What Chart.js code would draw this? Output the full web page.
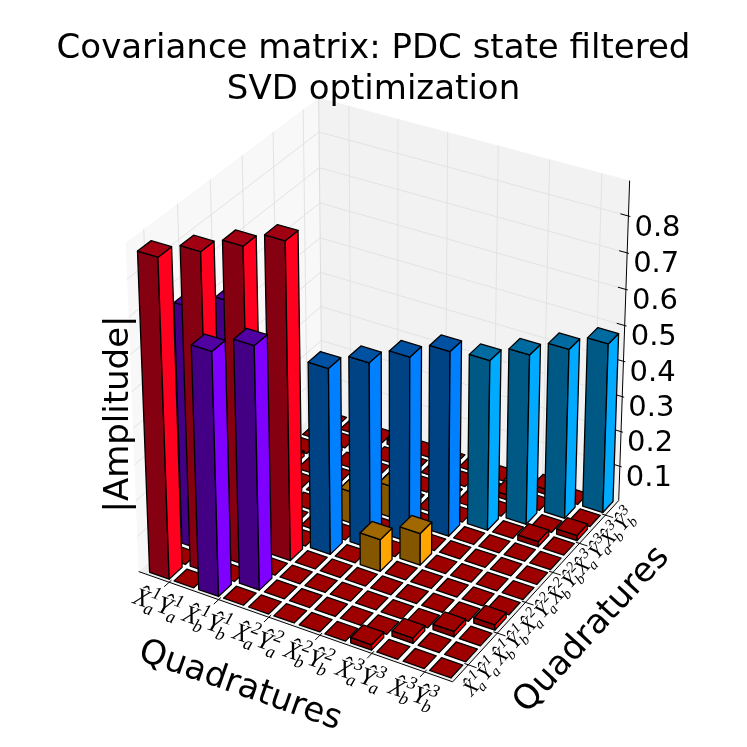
<!DOCTYPE html>
<html><head><meta charset="utf-8">
<script src="https://cdn.jsdelivr.net/npm/chart.js@4.4.0/dist/chart.umd.min.js"></script>
<style>html,body{margin:0;padding:0;background:#fff;}canvas{display:block;}</style>
</head><body>
<canvas id="c" width="747" height="747"></canvas>
<script>
// ---------------- data ----------------
const QUADRATURES = ['X_a^1','Y_a^1','X_b^1','Y_b^1','X_a^2','Y_a^2','X_b^2','Y_b^2','X_a^3','Y_a^3','X_b^3','Y_b^3'];
const TICK_PAIRS = [[0,1],[2,3],[4,5],[6,7],[8,9],[10,11]];
const DIAGONAL = [0.875,0.875,0.875,0.875, 0.52,0.52,0.52,0.52, 0.48,0.48,0.48,0.48];
const DIAGONAL_GROUP = ['m1','m1','m1','m1','m2','m2','m2','m2','m3','m3','m3','m3'];
const CROSS_PAIRS  = [[0,2],[1,3],[4,6],[5,7],[8,10],[9,11],[0,8],[1,9],[2,10],[3,11]];
const CROSS_VALUES = [0.67,0.67,0.09,0.09,0.015,0.015,0.015,0.015,0.015,0.015];
const CROSS_GROUP  = ['c1','c1','c2','c2','z','z','z','z','z','z'];
const Z_MAX = 0.895;
const TITLE_LINES = ['Covariance matrix: PDC state filtered','SVD optimization'];

// ---------------- style / layout ----------------
const COLORS = { m1:[255,0,30], m2:[0,128,255], m3:[0,170,255], c1:[128,0,255], c2:[255,165,0], z:[250,0,0] };
const SHADE = { right:1.0, front:0.52, top:0.63 };
const N = QUADRATURES.length;
const BAR_LO = 0.1, BAR_HI = 0.9;
const AX_MIN = -0.25, AX_MAX = N + 0.05;
// box-corner calibration: [u,v,w] (normalised axes) -> reference pixel
const CAL = [
  [0,0,0,139,572],[1,0,0,452,682],[1,1,0,619,500],
  [0,0,1,126,242],[0,1,1,318,98],[1,1,1,630,181]
];
const TITLE_SIZE = 34, TITLE_PAD_TOP = 29, TITLE_LH = 1.2;
const TITLE_H = TITLE_PAD_TOP + TITLE_LINES.length * TITLE_SIZE * TITLE_LH;

function solveProjection(cal){
  const A=[], b=[];
  cal.forEach(([u,v,w,sx,sy])=>{
    A.push([1,u,v,w,0,0,0,0,-sx*u,-sx*v,-sx*w]); b.push(sx);
    A.push([0,0,0,0,1,u,v,w,-sy*u,-sy*v,-sy*w]); b.push(sy);
  });
  const n=11, M=[];
  for(let i=0;i<n;i++){ M.push(new Array(n+1).fill(0)); }
  for(let r=0;r<A.length;r++) for(let i=0;i<n;i++){ for(let j=0;j<n;j++) M[i][j]+=A[r][i]*A[r][j]; M[i][n]+=A[r][i]*b[r]; }
  for(let c=0;c<n;c++){
    let p=c; for(let r=c+1;r<n;r++) if(Math.abs(M[r][c])>Math.abs(M[p][c])) p=r;
    const t=M[c]; M[c]=M[p]; M[p]=t;
    for(let r=0;r<n;r++){ if(r===c) continue; const f=M[r][c]/M[c][c]; for(let k=c;k<=n;k++) M[r][k]-=f*M[c][k]; }
  }
  return M.map((row,i)=>row[n]/row[i]);
}
const P = solveProjection(CAL);
function projRef(u,v,w){
  const den = 1 + P[8]*u + P[9]*v + P[10]*w;
  return [(P[0]+P[1]*u+P[2]*v+P[3]*w)/den, (P[4]+P[5]*u+P[6]*v+P[7]*w)/den, den];
}

function parseQuad(s){ const m = s.match(/^(\w)_(\w)\^(\w)$/); return {letter:m[1], sub:m[2], sup:m[3]}; }

// build matrix
const MAT = [], GRP = [];
for(let i=0;i<N;i++){ MAT.push(new Array(N).fill(0)); GRP.push(new Array(N).fill('z')); }
DIAGONAL.forEach((v,i)=>{ MAT[i][i]=v; GRP[i][i]=DIAGONAL_GROUP[i]; });
CROSS_PAIRS.forEach(([a,b],k)=>{ MAT[a][b]=MAT[b][a]=CROSS_VALUES[k]; GRP[a][b]=GRP[b][a]=CROSS_GROUP[k]; });

const bar3d = {
  id:'bar3d',
  beforeDraw(chart){
    const ctx = chart.ctx, S = chart.scales;
    const fx = val => (S.qx.getPixelForValue(val)-S.qx.left)/(S.qx.right-S.qx.left);
    const fy = val => (S.qy.getPixelForValue(val)-S.qy.left)/(S.qy.right-S.qy.left);
    const fz = val => (S.amp.bottom-S.amp.getPixelForValue(val))/(S.amp.bottom-S.amp.top);
    const pt = (u,v,w) => { const r = projRef(u,v,w); return [S.x.getPixelForValue(r[0]), S.y.getPixelForValue(r[1])]; };
    const poly = (pts, fill, stroke, lw) => {
      ctx.beginPath(); pts.forEach((p,k)=>{ const q=pt(p[0],p[1],p[2]); k?ctx.lineTo(q[0],q[1]):ctx.moveTo(q[0],q[1]); }); ctx.closePath();
      if(fill){ ctx.fillStyle=fill; ctx.fill(); }
      if(stroke){ ctx.strokeStyle=stroke; ctx.lineWidth=lw||1; ctx.stroke(); }
    };
    const line = (a,b,col,lw) => { const p=pt(...a), q=pt(...b); ctx.beginPath(); ctx.moveTo(p[0],p[1]); ctx.lineTo(q[0],q[1]); ctx.strokeStyle=col; ctx.lineWidth=lw||1; ctx.stroke(); };
    let zt = (S.amp.ticks||[]).map(t=>t.value).filter(v=>v>1e-6 && v<Z_MAX);
    if(!zt.length) zt=[0.1,0.2,0.3,0.4,0.5,0.6,0.7,0.8];
    const tickU = TICK_PAIRS.map(p=>fx(p[1]));
    const tickV = TICK_PAIRS.map(p=>fy(p[1]));

    ctx.save();
    ctx.fillStyle='#ffffff'; ctx.fillRect(0,0,chart.width,chart.height);
    ctx.lineJoin='round';
    // panes
    poly([[0,0,0],[1,0,0],[1,1,0],[0,1,0]], '#eeeeee');
    poly([[0,0,0],[0,1,0],[0,1,1],[0,0,1]], '#f8f8f8');
    poly([[0,1,0],[1,1,0],[1,1,1],[0,1,1]], '#f2f2f2');
    const GC = '#e3e3e3';
    tickU.forEach(u=>{ line([u,1,0],[u,1,1],GC); line([u,0,0],[u,1,0],GC); });
    tickV.forEach(v=>{ line([0,v,0],[0,v,1],GC); line([0,v,0],[1,v,0],GC); });
    zt.forEach(z=>{ const w=fz(z); line([0,0,w],[0,1,w],GC); line([0,1,w],[1,1,w],GC); });
    line([0,1,0],[0,1,1],'#dddddd');
    // white tile field
    const a0=fx(BAR_LO*0.5), a1=fx(N-BAR_LO*0.5), b0=fy(BAR_LO*0.5), b1=fy(N-BAR_LO*0.5);
    poly([[a0,b0,0],[a1,b0,0],[a1,b1,0],[a0,b1,0]], '#ffffff');

    // axes lines
    ctx.lineCap='butt';
    line([0,0,0],[1,0,0],'#000',1);
    line([1,0,0],[1,1,0],'#000',1);
    line([1,1,0],[1,1,1],'#000',1);
    // ticks
    tickU.forEach(u=>line([u,0.012,0],[u,-0.025,0],'#000',1));
    tickV.forEach(v=>line([0.988,v,0],[1.025,v,0],'#000',1));
    zt.forEach(z=>line([0.975,1,fz(z)],[1.006,1,fz(z)],'#000',1));

    // z tick labels
    ctx.fillStyle='#000'; ctx.font='29px "DejaVu Sans"'; ctx.textAlign='left'; ctx.textBaseline='middle';
    zt.forEach(z=>{ const p=pt(1,1,fz(z)); ctx.fillText(z.toFixed(1), p[0]+6, p[1]+12); });

    // quadrature tick labels
    const angX = (()=>{const a=pt(0,0,0),b=pt(1,0,0); return Math.atan2(b[1]-a[1],b[0]-a[0]);})();
    const angY = (()=>{const a=pt(1,0,0),b=pt(1,1,0); return Math.atan2(b[1]-a[1],b[0]-a[0]);})();
    const drawPair = (cx,cy,ang,pair,sz) => {
      const parts = pair.map(k=>parseQuad(QUADRATURES[k]));
      const ss = Math.round(sz*0.7);
      const mainF=`italic ${sz}px "Liberation Serif"`, subF=`italic ${ss}px "Liberation Serif"`;
      ctx.save(); ctx.translate(cx,cy); ctx.rotate(ang);
      const ws = parts.map(p=>{ ctx.font=mainF; const wl=ctx.measureText(p.letter+'\u0302').width; ctx.font=subF; const wsub=Math.max(ctx.measureText(p.sub).width, ctx.measureText(p.sup).width); return [wl,wsub]; });
      const total = ws.reduce((s,w)=>s+w[0]+w[1]+1,0);
      let x=-total/2; const base=sz*0.28;
      ctx.fillStyle='#000'; ctx.textAlign='left'; ctx.textBaseline='alphabetic';
      parts.forEach((p,k)=>{
        ctx.font=mainF; ctx.fillText(p.letter+'\u0302', x, base); x+=ws[k][0];
        ctx.font=subF; ctx.fillText(p.sub, x-sz*0.08, base+sz*0.24); ctx.fillText(p.sup, x+1, base-sz*0.46); x+=ws[k][1]+1;
      });
      ctx.restore();
    };
    TICK_PAIRS.forEach((pair,k)=>{ const p=pt(tickU[k],0,0); drawPair(p[0]-12,p[1]+22,angX,pair,25); });
    TICK_PAIRS.forEach((pair,k)=>{ const p=pt(1,tickV[k],0); drawPair(p[0]+13,p[1]+13,angY,pair,21); });

    // bars (painter's order)
    const bars=[];
    for(let i=0;i<N;i++) for(let j=0;j<N;j++){
      const u0=fx(i+BAR_LO), u1=fx(i+BAR_HI), v0=fy(j+BAR_LO), v1=fy(j+BAR_HI), w=fz(MAT[i][j]);
      const d = projRef((u0+u1)/2,(v0+v1)/2,0)[2];
      bars.push({u0,u1,v0,v1,w,d,c:COLORS[GRP[i][j]]});
    }
    bars.sort((a,b)=>b.d-a.d);
    const col=(c,f)=>`rgb(${Math.round(c[0]*f)},${Math.round(c[1]*f)},${Math.round(c[2]*f)})`;
    bars.forEach(b=>{
      const {u0,u1,v0,v1,w,c}=b;
      if(w>1e-6){
        poly([[u0,v0,0],[u1,v0,0],[u1,v0,w],[u0,v0,w]], col(c,SHADE.front), '#000', 1.3);
        poly([[u1,v0,0],[u1,v1,0],[u1,v1,w],[u1,v0,w]], col(c,SHADE.right), '#000', 1.3);
      }
      poly([[u0,v0,w],[u1,v0,w],[u1,v1,w],[u0,v1,w]], col(c,SHADE.top), '#000', 1.3);
    });

    // axis titles
    ctx.fillStyle='#000'; ctx.font='34px "DejaVu Sans"'; ctx.textAlign='center'; ctx.textBaseline='middle';
    ctx.save(); ctx.translate(119,414); ctx.rotate(-Math.PI/2); ctx.fillText('|Amplitude|',0,0); ctx.restore();
    ctx.save(); ctx.translate(240,686); ctx.rotate(angX); ctx.fillText('Quadratures',0,0); ctx.restore();
    ctx.save(); ctx.translate(592,630); ctx.rotate(angY); ctx.fillText('Quadratures',0,0); ctx.restore();
    ctx.restore();
  }
};

new Chart(document.getElementById('c'), {
  type:'scatter',
  data:{ datasets:[{ data:[], pointRadius:0 }] },
  options:{
    responsive:false, animation:false, devicePixelRatio:1,
    layout:{ padding:0 },
    plugins:{
      legend:{ display:false }, tooltip:{ enabled:false },
      title:{ display:true, text:TITLE_LINES, color:'#000',
        font:{ family:'DejaVu Sans', size:TITLE_SIZE, weight:'normal', lineHeight:TITLE_LH },
        padding:{ top:TITLE_PAD_TOP, bottom:0 } }
    },
    scales:{
      x:{ type:'linear', min:0, max:747, display:false },
      y:{ type:'linear', min:TITLE_H, max:747, reverse:true, display:false },
      qx:{ type:'linear', axis:'x', position:'bottom', min:AX_MIN, max:AX_MAX, display:false },
      qy:{ type:'linear', axis:'x', position:'bottom', min:-0.05, max:N + 0.05, display:false },
      amp:{ type:'linear', axis:'y', position:'left', min:0, max:Z_MAX, display:false, ticks:{ stepSize:0.1, includeBounds:false } }
    }
  },
  plugins:[bar3d]
});
</script>
</body></html>
